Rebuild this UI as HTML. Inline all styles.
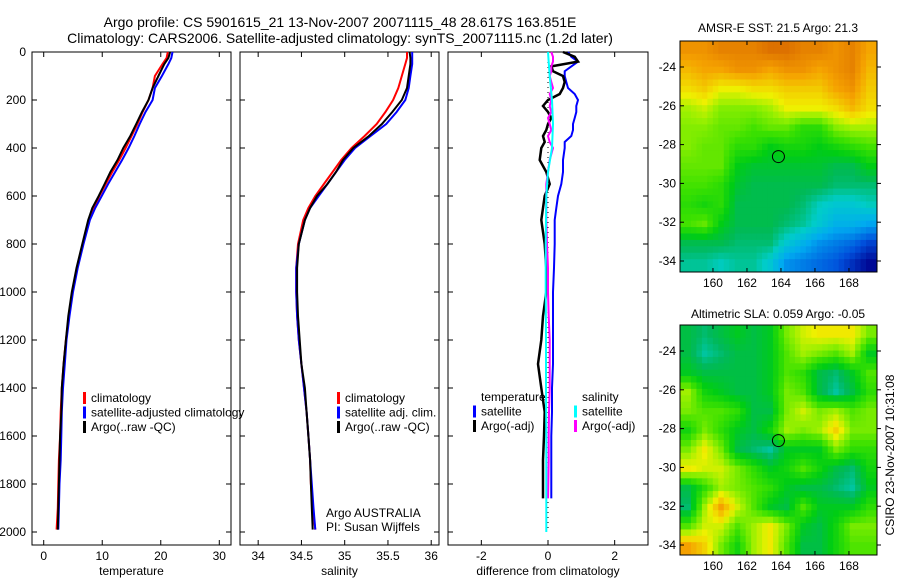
<!DOCTYPE html>
<html><head><meta charset="utf-8">
<style>
html,body{margin:0;padding:0;background:#fff;}
svg{display:block;font-family:"Liberation Sans",sans-serif;}
text{fill:#000;}
</style></head>
<body>
<svg id="fig" width="900" height="580" viewBox="0 0 900 580" xmlns="http://www.w3.org/2000/svg">
<text x="340" y="27" font-size="14" text-anchor="middle">Argo profile: CS 5901615_21 13-Nov-2007 20071115_48 28.617S 163.851E</text>
<text x="340" y="43" font-size="14" text-anchor="middle">Climatology: CARS2006. Satellite-adjusted climatology: synTS_20071115.nc (1.2d later)</text>
<text x="778" y="32" font-size="12" text-anchor="middle">AMSR-E SST: 21.5 Argo: 21.3</text>
<text x="778" y="318" font-size="12" text-anchor="middle">Altimetric SLA: 0.059 Argo: -0.05</text>
<text transform="translate(894,455) rotate(-90)" font-size="12" text-anchor="middle">CSIRO 23-Nov-2007 10:31:08</text>
<g id="plots"></g>
</svg>
<script>
// ---- profile data ----
const depths = [0,25,50,100,150,200,250,300,350,400,450,500,550,600,650,700,800,900,1000,1100,1200,1300,1400,1500,1600,1700,1800,1900,1990];
const argoT = [21.6,21.3,20.6,19.6,18.6,17.9,16.8,15.8,14.8,13.6,12.6,11.4,10.4,9.4,8.3,7.6,6.6,5.6,4.8,4.2,3.8,3.4,3.1,3.0,2.8,2.7,2.6,2.5,2.4];
const climT = [21.2,21.0,20.3,19.0,18.6,17.9,16.9,16.0,15.0,14.0,12.9,11.7,10.6,9.5,8.6,7.8,6.7,5.7,4.9,4.3,3.8,3.4,3.1,2.9,2.8,2.6,2.5,2.4,2.2];
const satT = [22.0,21.8,21.3,20.2,19.0,18.6,17.4,16.4,15.5,14.5,13.4,12.2,11.0,9.9,8.8,7.9,6.8,5.8,5.0,4.4,3.9,3.6,3.3,3.1,3.0,2.9,2.7,2.6,2.5];
const argoS = [35.75,35.76,35.76,35.74,35.72,35.66,35.55,35.43,35.28,35.1,34.98,34.9,34.8,34.68,34.6,34.54,34.47,34.45,34.45,34.46,34.48,34.5,34.54,34.56,34.58,34.6,34.61,34.62,34.63];
const climS = [35.72,35.72,35.7,35.66,35.62,35.56,35.47,35.37,35.23,35.08,34.96,34.86,34.76,34.66,34.58,34.52,34.46,34.44,34.44,34.45,34.47,34.5,34.53,34.56,34.58,34.6,34.61,34.63,34.66];
const satS = [35.78,35.78,35.78,35.76,35.74,35.7,35.6,35.48,35.3,35.12,35.0,34.9,34.8,34.7,34.6,34.54,34.47,34.44,34.44,34.45,34.47,34.5,34.53,34.56,34.58,34.6,34.62,34.64,34.66];
// ---- difference data ----
const dDepth = [0,20,40,60,80,100,125,150,175,200,225,250,275,300,325,350,375,400,450,500,550,600,650,700,800,900,1000,1100,1200,1300,1400,1500,1600,1700,1860];
const dArgoT = [0.45,0.8,0.9,0.1,0.15,0.45,0.5,0.45,0.35,0.0,-0.15,0.0,0.1,0.0,-0.05,-0.15,-0.1,-0.2,-0.25,-0.05,0.05,-0.1,-0.15,-0.2,-0.1,-0.05,-0.05,-0.15,-0.2,-0.3,-0.2,-0.1,-0.12,-0.15,-0.15];
const dSatT = [0.6,0.7,0.9,0.7,0.5,0.5,0.55,0.6,0.8,0.9,0.85,0.85,0.8,0.75,0.75,0.7,0.5,0.5,0.45,0.45,0.4,0.3,0.25,0.2,0.2,0.18,0.15,0.15,0.15,0.15,0.12,0.12,0.1,0.1,0.1];
const dArgoS = [0.1,0.15,0.15,0.1,0.1,0.05,0.1,0.15,0.05,0.1,0.05,0.1,0.0,0.05,0.1,0.0,0.05,0.15,0.05,0.0,-0.05,-0.05,-0.05,-0.05,-0.03,0.0,0.0,0.02,0.05,0.05,0.05,0.03,0.02,0.02,0.0];
const cDepth = [0,100,200,300,400,500,600,800,1000,1200,1400,1600,1800,2000];
const dSatS = [0.0,0.05,0.12,0.15,0.12,0.0,-0.05,-0.07,-0.07,-0.06,-0.06,-0.05,-0.05,-0.05];
// ---- tick labels ----
const depthTicks = [0,200,400,600,800,1000,1200,1400,1600,1800,2000];
const tempTicks = [0,10,20,30];
const salTicks = [34,34.5,35,35.5,36];
const diffTicks = [-2,0,2];
const latTicks = [-24,-26,-28,-30,-32,-34];
const lonTicks = [160,162,164,166,168];
// ---- map data (12 rows N->S, 12 cols W->E) ----
const sstGrid = [
[23.6,23.6,23.8,23.8,23.8,24.0,24.0,23.8,23.8,23.6,23.8,23.4],
[23.2,23.4,23.4,23.6,23.6,23.4,23.6,23.6,23.4,23.6,23.8,23.2],
[22.8,23.0,22.6,22.6,22.8,22.8,23.0,23.0,23.0,23.4,23.6,23.0],
[22.2,22.4,22.0,22.0,22.0,22.2,22.6,22.6,22.6,22.8,23.2,22.8],
[22.0,22.0,21.8,21.8,21.6,21.8,21.8,21.4,21.4,22.0,22.2,22.2],
[22.0,21.8,21.8,21.4,21.4,21.0,21.2,21.2,21.0,21.2,21.4,21.6],
[21.8,21.8,21.8,21.0,20.8,20.8,20.8,20.8,20.8,20.6,20.6,21.0],
[21.6,21.6,21.4,20.8,20.6,20.6,20.6,20.6,20.6,20.4,20.4,20.4],
[21.4,21.2,21.4,20.6,20.6,20.6,20.6,20.4,20.0,19.8,19.8,20.0],
[21.6,21.8,21.0,20.6,20.6,20.6,20.4,20.2,19.8,19.4,19.4,19.2],
[20.6,20.6,20.6,20.4,20.4,20.4,19.8,19.4,19.0,18.8,18.6,18.2],
[20.2,20.2,20.0,20.2,20.2,19.8,19.0,18.8,18.6,18.4,18.0,17.6]];
const slaGrid = [
[-0.06,-0.08,-0.06,-0.04,-0.06,-0.04,0.04,0.08,0.1,0.1,0.1,0.04],
[-0.06,-0.1,-0.08,-0.06,-0.06,-0.04,0.02,0.06,0.04,0.02,0.06,-0.04],
[-0.04,-0.06,-0.06,-0.06,-0.06,-0.04,0.02,0.0,-0.06,-0.08,-0.04,0.02],
[0.06,-0.02,-0.04,-0.06,-0.06,-0.04,0.04,0.02,-0.06,-0.1,-0.06,0.0],
[0.04,0.02,0.02,0.0,-0.06,-0.06,0.04,0.08,0.04,0.06,0.02,0.04],
[-0.02,0.04,0.0,-0.04,-0.06,-0.02,0.06,0.04,0.06,0.12,0.04,0.04],
[0.04,0.1,0.04,-0.06,-0.08,-0.1,-0.04,-0.04,-0.04,0.04,0.0,0.0],
[0.1,0.08,0.08,0.04,0.0,-0.04,-0.02,0.02,-0.02,-0.06,-0.08,-0.02],
[-0.06,0.0,0.06,0.04,0.02,0.0,-0.04,-0.06,-0.06,-0.08,-0.1,-0.04],
[-0.08,0.06,0.16,0.08,0.02,-0.04,-0.06,0.02,-0.04,-0.04,-0.04,0.0],
[0.02,0.08,0.08,0.02,0.06,0.1,0.04,-0.04,-0.06,-0.02,0.04,0.04],
[0.16,0.12,0.04,-0.02,0.06,0.1,0.02,-0.06,-0.06,-0.02,0.02,0.02]];
const floatLat = -28.617, floatLon = 163.851;

const NS = "http://www.w3.org/2000/svg";
const root = document.getElementById('plots');
function mk(tag, attrs, parent){const e=document.createElementNS(NS,tag);for(const k in attrs)e.setAttribute(k,attrs[k]);(parent||root).appendChild(e);return e;}

const Y0=52, YS=0.24; const yD = d => Y0 + d*YS;
function panel(name, x0, x1, xmin, xmax){
  const g = mk('g',{});
  
  
  const xs = v => x0 + (v - xmin)/(xmax - xmin)*(x1 - x0);
  const fr = mk('rect',{x:x0,y:Y0,width:x1-x0,height:545-Y0,fill:'none',stroke:'#000','stroke-width':1},g);
  
  
  return {g, xs, x0, x1};
}
function ticksY(p, labels){
  depthTicks.forEach(d=>{
    const y=yD(d);
    mk('line',{x1:p.x0,x2:p.x0+5,y1:y,y2:y,stroke:'#000'},p.g);
    mk('line',{x1:p.x1,x2:p.x1-5,y1:y,y2:y,stroke:'#000'},p.g);
    if(labels){const t=mk('text',{x:p.x0-6,y:y+4,'font-size':12,'text-anchor':'end'},p.g);t.textContent=d;
      
      }
  });
}
function ticksX(p, vals, title){
  vals.forEach(v=>{
    const x=p.xs(v);
    mk('line',{x1:x,x2:x,y1:545,y2:540,stroke:'#000'},p.g);
    mk('line',{x1:x,x2:x,y1:Y0,y2:Y0+5,stroke:'#000'},p.g);
    const t=mk('text',{x:x,y:560,'font-size':12,'text-anchor':'middle'},p.g);t.textContent=v;
    
    
  });
  const t=mk('text',{x:(p.x0+p.x1)/2,y:575,'font-size':12,'text-anchor':'middle'},p.g);t.textContent=title;
  
  
}
function line(p, xv, dv, color, name, w){
  const pts = xv.map((v,i)=>p.xs(v).toFixed(1)+','+yD(dv[i]).toFixed(1)).join(' ');
  const l=mk('polyline',{points:pts,fill:'none',stroke:color,'stroke-width':w||2},p.g);
  
  
}
function legend(p, x, y, items){
  items.forEach((it,i)=>{
    const yy=y+i*14.5;
    if(it[1]) mk('rect',{x:x,y:yy-6,width:3,height:12,fill:it[1]},p.g);
    const t=mk('text',{x:x+8,y:yy+4,'font-size':12},p.g);t.textContent=it[0];
    
    
  });
}

// Temperature
const pT = panel('temperature-panel',32,231,-2,32);
ticksY(pT,true); ticksX(pT,tempTicks,'temperature');
line(pT,climT,depths,'#f00','temp-climatology-line');
line(pT,satT,depths,'#00f','temp-satellite-line');
line(pT,argoT,depths,'#000','temp-argo-line');
legend(pT,83,398,[['climatology','#f00'],['satellite-adjusted climatology','#00f'],['Argo(..raw -QC)','#000']]);

// Salinity
const pS = panel('salinity-panel',240,439,33.79,36.09);
ticksY(pS,false); ticksX(pS,salTicks,'salinity');
line(pS,climS,depths,'#f00','sal-climatology-line');
line(pS,satS,depths,'#00f','sal-satellite-line');
line(pS,argoS,depths,'#000','sal-argo-line');
legend(pS,337,398,[['climatology','#f00'],['satellite adj. clim.','#00f'],['Argo(..raw -QC)','#000']]);
{const t=mk('text',{x:326,y:517,'font-size':12},pS.g);t.textContent='Argo AUSTRALIA';

const t2=mk('text',{x:326,y:531,'font-size':12},pS.g);t2.textContent='PI: Susan Wijffels';
}

// Difference
const pD = panel('difference-panel',448,648,-3,3);
ticksY(pD,false); ticksX(pD,diffTicks,'difference from climatology');
mk('line',{x1:pD.xs(0),x2:pD.xs(0),y1:Y0,y2:yD(2000),stroke:'#000','stroke-dasharray':'1,4'},pD.g);
line(pD,dSatT,dDepth,'#00f','diff-temp-satellite-line');
line(pD,dArgoT,dDepth,'#000','diff-temp-argo-line',2.5);
line(pD,dArgoS,dDepth,'#f0f','diff-sal-argo-line');
line(pD,dSatS,cDepth,'#0ff','diff-sal-satellite-line');
legend(pD,473,397,[['temperature',null],['satellite','#00f'],['Argo(-adj)','#000']]);
legend(pD,574,397,[['salinity',null],['satellite','#0ff'],['Argo(-adj)','#f0f']]);

// Maps
const cmapStops=[[0,0,0,140],[0.12,0,80,220],[0.25,0,170,240],[0.35,0,205,200],[0.43,0,185,90],[0.5,0,205,20],[0.58,60,225,0],[0.66,150,240,0],[0.73,240,240,0],[0.85,245,160,0],[1,200,70,0]];
function cmap(f){f=Math.max(0,Math.min(1,f));
  for(let k=1;k<cmapStops.length;k++){const a=cmapStops[k-1],b=cmapStops[k];
    if(f<=b[0]){const t=(f-a[0])/(b[0]-a[0]);
      return `rgb(${Math.round(a[1]+t*(b[1]-a[1]))},${Math.round(a[2]+t*(b[2]-a[2]))},${Math.round(a[3]+t*(b[3]-a[3]))})`;}}
  return 'rgb(200,70,0)';}
function sample(grid,r,c){const R=grid.length-1,C=grid[0].length-1;
  r=Math.max(0,Math.min(R,r));c=Math.max(0,Math.min(C,c));
  const r0=Math.floor(r),c0=Math.floor(c),r1=Math.min(R,r0+1),c1=Math.min(C,c0+1),fr=r-r0,fc=c-c0;
  return (grid[r0][c0]*(1-fc)+grid[r0][c1]*fc)*(1-fr)+(grid[r1][c0]*(1-fc)+grid[r1][c1]*fc)*fr;}
function map(name, top, bottom, grid, vmin, vmax){
  const x0=680,x1=877, lonMin=158.06, lonMax=169.65;
  const g=mk('g',{});
  
  
  const lat24 = top+26, lat34 = lat24+194;
  const ys = la => lat24 + (-24 - la)/10*(lat34-lat24);
  const xs = lo => x0 + (lo-lonMin)/(lonMax-lonMin)*(x1-x0);
  const rows=grid.length, cols=grid[0].length, S=3;
  const cw=(x1-x0)/(cols*S), ch=(bottom-top)/(rows*S);
  for(let i=0;i<rows*S;i++)for(let j=0;j<cols*S;j++){
    const v=sample(grid,(i+0.5)/S-0.5,(j+0.5)/S-0.5);
    const c=mk('rect',{x:(x0+j*cw).toFixed(2),y:(top+i*ch).toFixed(2),width:(cw+0.5).toFixed(2),height:(ch+0.5).toFixed(2),fill:cmap((v-vmin)/(vmax-vmin))},g);
    
    
  }
  mk('rect',{x:x0,y:top,width:x1-x0,height:bottom-top,fill:'none',stroke:'#000'},g);
  latTicks.forEach(la=>{const y=ys(la);
    mk('line',{x1:x0,x2:x0+4,y1:y,y2:y,stroke:'#000'},g);
    mk('line',{x1:x1,x2:x1+4,y1:y,y2:y,stroke:'#000'},g);
    const t=mk('text',{x:676,y:y+4,'font-size':12,'text-anchor':'end'},g);t.textContent=la;
    });
  lonTicks.forEach(lo=>{const x=xs(lo);
    mk('line',{x1:x,x2:x,y1:bottom,y2:bottom-4,stroke:'#000'},g);
    mk('line',{x1:x,x2:x,y1:top,y2:top+4,stroke:'#000'},g);
    const t=mk('text',{x:x,y:bottom+15,'font-size':12,'text-anchor':'middle'},g);t.textContent=lo;
    });
  const m=mk('circle',{cx:xs(floatLon),cy:ys(floatLat),r:6,fill:'none',stroke:'#000'},g);
  
  
}
map('sst-map',41,272,sstGrid,17.5,24.5);
map('sla-map',325,555,slaGrid,-0.311,0.244);
</script>
</body></html>
